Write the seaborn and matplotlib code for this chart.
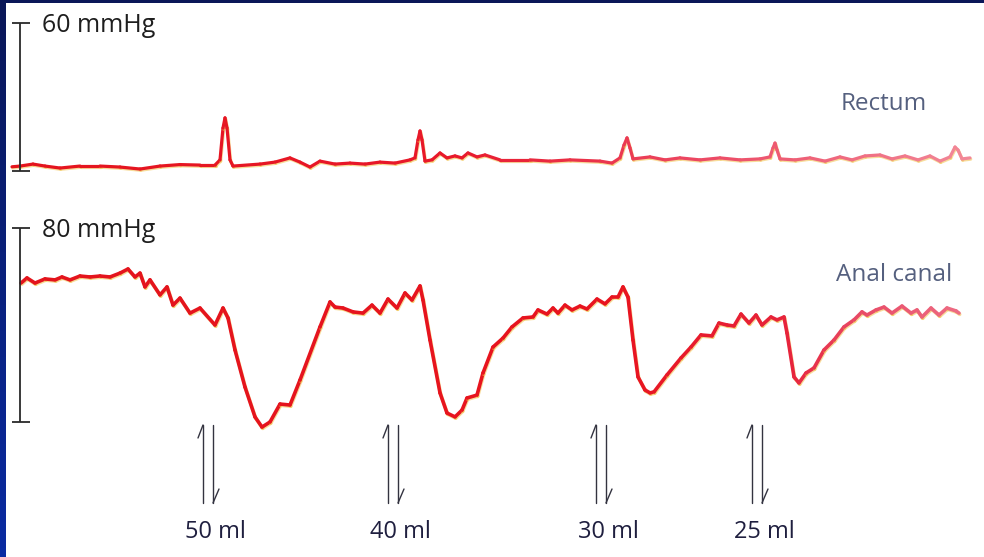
import numpy as np
import pandas as pd
import matplotlib
matplotlib.use("Agg")
import matplotlib.pyplot as plt
import matplotlib.patheffects as pe
import seaborn as sns
from matplotlib.colors import to_rgb
from matplotlib.patches import Rectangle

# ---- recorded pressures (time in s, pressure in mmHg) ----
rectum_t = [1.2, 2.0, 3.3, 4.5, 6.0, 8.0, 10.0, 12.0, 14.0, 16.0,
            18.0, 20.0, 21.5, 22.0, 22.3, 22.5, 22.7, 23.0, 23.3, 26.0,
            27.5, 29.0, 30.0, 31.0, 32.0, 33.5, 35.0, 36.5, 38.0, 39.5,
            41.0, 41.5, 41.8, 42.0, 42.2, 42.5, 43.2, 44.0, 44.7, 45.5,
            46.2, 46.8, 47.7, 48.5, 50.0, 53.0, 55.0, 57.0, 60.0, 61.2,
            62.0, 62.4, 62.7, 63.0, 63.3, 65.0, 66.5, 68.0, 70.0, 72.0,
            74.0, 76.0, 77.0, 77.3, 77.5, 77.7, 78.0, 79.5, 81.0, 82.5,
            84.0, 85.2, 86.5, 88.0, 89.2, 90.5, 91.8, 93.0, 94.0, 95.0,
            95.5, 95.8, 96.2, 97.0]
rectum_p = [1.7, 2.0, 2.8, 2.0, 1.2, 2.0, 2.0, 1.6, 0.8, 2.0,
            2.6, 2.4, 2.4, 4.5, 17.4, 21.5, 17.4, 4.5, 2.0, 2.8,
            3.6, 5.3, 3.6, 1.6, 4.0, 2.8, 3.2, 2.8, 3.6, 3.2,
            4.5, 5.3, 12.6, 16.2, 12.6, 4.0, 4.5, 7.3, 5.3, 6.1,
            5.3, 7.3, 5.7, 6.5, 4.5, 4.5, 4.0, 4.5, 4.0, 3.2,
            5.3, 10.5, 13.4, 9.3, 4.9, 5.7, 4.5, 5.3, 4.5, 5.3,
            4.5, 4.9, 5.7, 9.3, 11.3, 8.5, 4.9, 4.5, 5.3, 4.0,
            5.7, 4.5, 6.1, 6.5, 4.9, 6.1, 4.5, 6.1, 4.0, 5.7,
            9.7, 8.5, 4.9, 5.3]

anal_t = [2.1, 2.7, 3.5, 4.5, 5.5, 6.2, 7.0, 8.0, 9.0, 10.0,
          11.0, 12.0, 12.8, 13.5, 14.0, 14.5, 15.0, 16.0, 16.7, 17.3,
          18.0, 19.0, 20.0, 21.5, 22.3, 22.8, 23.5, 24.5, 25.5, 26.2,
          27.0, 28.0, 29.0, 30.0, 32.0, 33.0, 33.5, 34.3, 35.3, 36.3,
          37.2, 38.0, 38.8, 39.7, 40.5, 41.2, 42.0, 42.3, 43.0, 44.0,
          44.7, 45.5, 46.2, 46.7, 47.7, 48.3, 49.3, 50.3, 51.2, 52.3,
          53.3, 53.8, 54.7, 55.3, 55.8, 56.5, 57.2, 58.0, 58.7, 59.7,
          60.5, 61.2, 61.8, 62.3, 62.8, 63.3, 63.8, 64.5, 65.0, 65.4,
          66.7, 68.1, 69.1, 70.1, 71.2, 71.9, 72.7, 73.4, 74.1, 74.9,
          75.6, 76.2, 77.1, 77.7, 78.4, 78.7, 79.4, 79.9, 80.6, 81.4,
          82.4, 83.4, 84.4, 85.4, 86.2, 86.7, 87.6, 88.4, 89.2, 90.2,
          91.1, 91.7, 92.2, 93.1, 93.9, 94.7, 95.6, 95.9]
anal_p = [57.3, 59.4, 57.3, 59.0, 58.6, 59.8, 58.6, 60.2, 59.8, 60.2,
          59.8, 61.4, 63.1, 59.8, 61.4, 55.7, 58.6, 52.4, 55.7, 48.2,
          51.1, 44.9, 47.0, 40.0, 47.0, 42.9, 29.7, 14.4, 2.1, -2.1,
          0.0, 7.4, 7.0, 17.3, 39.2, 49.5, 47.4, 47.0, 45.4, 44.9,
          48.2, 44.9, 50.7, 47.0, 53.2, 50.3, 56.1, 50.3, 33.8, 12.0,
          3.7, 2.1, 4.9, 9.9, 11.1, 20.2, 30.9, 34.6, 39.2, 42.9,
          43.3, 46.2, 44.5, 47.0, 44.9, 48.2, 46.2, 47.8, 46.6, 50.7,
          48.7, 51.5, 51.5, 55.7, 51.5, 33.8, 18.6, 13.2, 12.0, 12.4,
          19.4, 26.4, 30.9, 35.9, 35.5, 40.8, 40.0, 39.6, 44.5, 40.8,
          44.1, 40.0, 43.3, 42.1, 43.3, 36.7, 18.6, 16.1, 20.2, 22.3,
          29.7, 33.8, 39.2, 42.1, 45.4, 44.1, 46.2, 47.4, 44.9, 47.8,
          44.9, 46.2, 43.3, 47.0, 44.1, 47.0, 45.8, 44.9]

# balloon distensions
volume_t = [20.8, 39.3, 60.1, 75.7]
volume_labels = ["50 ml", "40 ml", "30 ml", "25 ml"]

rectum_scale = 60   # mmHg
anal_scale = 80     # mmHg

# ---- figure ----
sns.set_theme(style="white")
plt.rcParams['font.family'] = ['Open Sans', 'DejaVu Sans']

W, H = 984, 557
fig = plt.figure(figsize=(W / 100, H / 100), dpi=100)


def px_axes(x0, y0, x1, y1):
    ax = fig.add_axes([x0 / W, 1 - y1 / H, (x1 - x0) / W, (y1 - y0) / H])
    ax.set_facecolor('none')
    ax.axis('off')
    return ax


# slide background: navy frame with white panel
ax_bg = px_axes(0, 0, W, H)
grad = np.linspace(0, 1, 64)[:, None, None]
c_top = np.array(to_rgb('#0a1758'))
c_bot = np.array(to_rgb('#0a2ba2'))
ax_bg.imshow(c_top + grad * (c_bot - c_top), extent=[0, W, H, 0], aspect='auto')
ax_bg.add_patch(Rectangle((6, 3), W - 6, H - 3, color='white', lw=0))
ax_bg.set_xlim(0, W)
ax_bg.set_ylim(H, 0)

T_MAX = 98.4


def trace_axes(y0, y1, zero_px, px_per_unit):
    ax = px_axes(0, y0, W, y1)
    ax.set_xlim(0, T_MAX)
    ax.set_ylim((zero_px - y1) / px_per_unit, (zero_px - y0) / px_per_unit)
    return ax


ax_r = trace_axes(10, 200, 171.0, 2.47)
ax_a = trace_axes(200, 445, 422.0, 2.425)


def gradient_trace(ax, t, p, stops, lw):
    t = np.asarray(t, float)
    p = np.asarray(p, float)
    rows = []
    for i in range(len(t) - 1):
        rows.append((t[i], p[i], i))
        rows.append((t[i + 1], p[i + 1], i))
    df = pd.DataFrame(rows, columns=['t', 'p', 'seg'])
    mid = (t[:-1] + t[1:]) / 2
    st = [s[0] for s in stops]
    cols = np.array([to_rgb(s[1]) for s in stops])
    pal = [tuple(float(np.interp(m, st, cols[:, k])) for k in range(3)) for m in mid]
    # pale ink fringe under the pen stroke
    fringe = [pe.SimpleLineShadow(offset=(0.5, -0.9), shadow_color='#f2c24a', alpha=0.55),
              pe.Normal()]
    sns.lineplot(data=df, x='t', y='p', hue='seg', palette=pal, legend=False,
                 estimator=None, sort=False, lw=lw, solid_capstyle='round',
                 solid_joinstyle='round', path_effects=fringe, ax=ax)
    ax.set_xlim(0, T_MAX)
    ax.axis('off')


gradient_trace(ax_r, rectum_t, rectum_p,
               [(0, '#e4141c'), (45, '#e8182a'), (70, '#ec4863'), (97, '#f28898')], 2.3)
gradient_trace(ax_a, anal_t, anal_p,
               [(0, '#e3141c'), (62, '#e8141f'), (79, '#e7243c'), (86, '#e84a66'), (97, '#ee6f86')], 2.6)

# calibration bars
bar_col = '#2a2a2a'
for ax, full, txt in [(ax_r, rectum_scale, f"{rectum_scale} mmHg"),
                      (ax_a, anal_scale, f"{anal_scale} mmHg")]:
    ax.plot([2.0, 2.0], [0, full], color=bar_col, lw=1.3, solid_capstyle='butt')
    for v in (0, full):
        ax.plot([1.2, 3.0], [v, v], color=bar_col, lw=1.3, solid_capstyle='butt')
    ax.annotate(txt, xy=(4.2, full), xytext=(0, -6.5), textcoords='offset points',
                ha='left', va='baseline', fontsize=18, color='#1e1e1e')

ax_r.text(84.1, 24.7, "Rectum", ha='left', va='baseline', fontsize=17.5, color='#55607f')
ax_a.text(83.6, 58.3, "Anal canal", ha='left', va='baseline', fontsize=17.5, color='#55607f')

# distension markers
ax_o = px_axes(0, 0, W, H)
ax_o.set_xlim(0, T_MAX)
ax_o.set_ylim(H, 0)
arr_col = '#333340'
for tc, lab in zip(volume_t, volume_labels):
    xl, xr = tc - 0.5, tc + 0.5
    ax_o.plot([xl, xl], [425, 503], color=arr_col, lw=1.0)
    ax_o.plot([xl, xl - 0.5], [425, 438], color=arr_col, lw=1.0)
    ax_o.plot([xr, xr], [425, 503], color=arr_col, lw=1.0)
    ax_o.plot([xr, xr + 0.6], [503, 489], color=arr_col, lw=1.0)
    ax_o.text(tc + 0.7, 538, lab, ha='center', va='baseline', fontsize=17, color='#1f1f3f')

fig.savefig("out.png", dpi=100)
